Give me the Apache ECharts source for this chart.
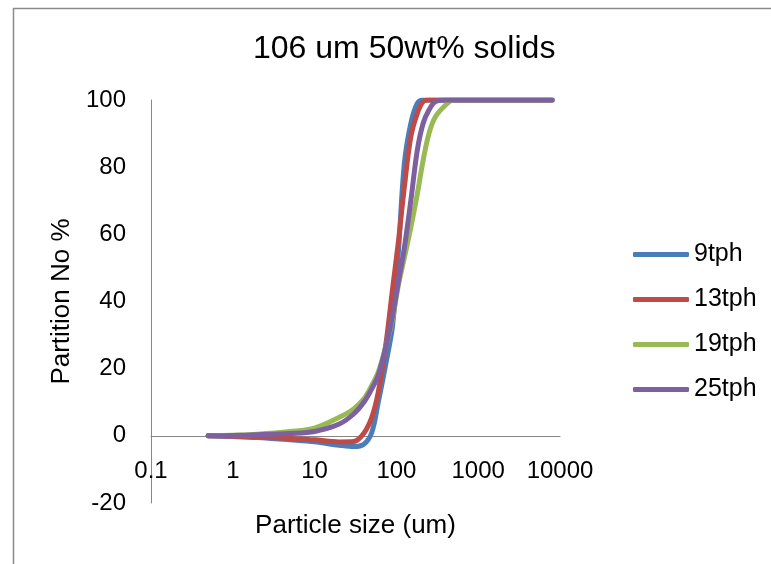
<!DOCTYPE html>
<html>
<head>
<meta charset="utf-8">
<script src="https://cdn.jsdelivr.net/npm/echarts@6/dist/echarts.min.js"></script>
<style>html,body{margin:0;padding:0;background:#fff}#c{width:771px;height:564px}</style>
</head>
<body>
<div id="c"></div>
<script>
const titleText = '106 um 50wt% solids';
const xName = 'Particle size (um)';
const yName = 'Partition No %';
const seriesNames = ['9tph', '13tph', '19tph', '25tph'];
const colors = ['#4A7EBB', '#BE4B48', '#98B954', '#7D60A0'];
const sizes  = [0.5, 1, 2, 5, 10, 20, 30, 40, 50, 60, 75, 90, 106, 125, 150, 180, 212, 250, 300, 400, 500, 1000, 8000];
const tph9   = [0, -0.2, -0.5, -1.2, -1.8, -2.8, -3.2, -2.5, 1, 10, 22, 33, 55, 81, 93, 99, 100, 100, 100, 100, 100, 100, 100];
const tph13  = [0, -0.1, -0.3, -0.8, -1.2, -1.8, -1.7, 0.8, 5.5, 13, 28, 44, 58, 74, 89, 96, 99.5, 100, 100, 100, 100, 100, 100];
const tph19  = [0, 0.2, 0.5, 1.3, 2.3, 5.5, 8, 11, 15, 19, 27, 35, 45, 53, 62, 72, 82, 90, 95, 98.5, 100, 100, 100];
const tph25  = [0, 0.1, 0.3, 0.7, 1.3, 3.5, 6.5, 10, 14, 18, 27, 36, 46, 56, 70, 85, 93, 97, 99.5, 100, 100, 100, 100];
const allValues = [tph9, tph13, tph19, tph25];

const font = 'Liberation Sans, Arial, sans-serif';
const chart = echarts.init(document.getElementById('c'));
chart.setOption({
  backgroundColor: '#fff',
  animation: false,
  color: colors,
  title: {
    text: titleText, left: 248, top: 28,
    textStyle: { fontFamily: font, fontSize: 32, fontWeight: 'normal', color: '#000' }
  },
  graphic: [{
    type: 'rect', shape: { x: 13.5, y: 8.5, width: 800, height: 600 },
    style: { fill: 'none', stroke: '#8a8a8a', lineWidth: 1.5 }, silent: true
  }],
  legend: {
    orient: 'vertical', left: 628, top: 237, itemWidth: 56, itemHeight: 5, itemGap: 20,
    icon: 'roundRect',
    textStyle: { fontFamily: font, fontSize: 25, color: '#000' },
    data: seriesNames
  },
  grid: { left: 151, right: 211, top: 100, bottom: 61, containLabel: false, outerBoundsMode: 'none' },
  xAxis: {
    type: 'log', logBase: 10, min: 0.1, max: 10000,
    name: xName, nameLocation: 'middle', nameGap: 10,
    nameTextStyle: { fontFamily: font, fontSize: 26, color: '#000' },
    axisLine: { onZero: true, lineStyle: { color: '#868686', width: 1 } },
    axisTick: { show: false },
    splitLine: { show: false },
    minorTick: { show: false },
    axisLabel: { fontFamily: font, fontSize: 24, color: '#000', margin: -44,
      formatter: v => String(+v.toPrecision(6)) }
  },
  yAxis: {
    type: 'value', min: -20, max: 100, interval: 20,
    name: yName, nameLocation: 'middle', nameGap: 76,
    nameTextStyle: { fontFamily: font, fontSize: 26, color: '#000' },
    axisLine: { show: true, onZero: false, lineStyle: { color: '#868686', width: 1 } },
    axisTick: { show: false },
    splitLine: { show: false },
    axisLabel: { fontFamily: font, fontSize: 24, color: '#000', margin: 25 }
  },
  series: seriesNames.map((n, k) => ({
    name: n, type: 'line', smooth: 0.35, showSymbol: false, symbol: 'none',
    lineStyle: { width: 5, cap: 'round', join: 'round', color: colors[k] },
    itemStyle: { color: colors[k] },
    data: sizes.map((s, i) => [s, allValues[k][i]])
  }))
});
</script>
</body>
</html>
